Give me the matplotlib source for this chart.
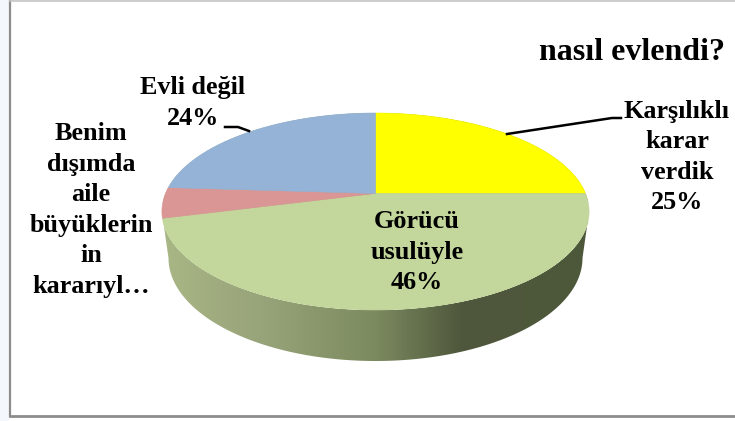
import numpy as np
import matplotlib
matplotlib.use('Agg')
import matplotlib.pyplot as plt
from matplotlib.colors import LinearSegmentedColormap
from matplotlib.patches import Polygon

plt.rcParams['font.family'] = ['Liberation Serif', 'DejaVu Serif']

title = 'nasıl evlendi?'
categories = ['Karşılıklı\nkarar\nverdik', 'Görücü\nusulüyle',
              'Benim\ndışımda\naile\nbüyüklerin\nin\nkararıyl…', 'Evli değil']
values = [25, 46, 5, 24]
colors = ['#ffff00', '#c3d69b', '#d99694', '#95b3d7']

# label centres in pixels
label_pos = [(677, 157), (417, 252), (91, 210), (193, 103)]


def top_face(ang):
    # tilted circle, apex is not the ellipse centre because of the perspective
    u = np.cos(ang)
    v = np.sin(ang)
    w = 1 + 0.1827 * v
    return 375.5 + 210 * u / w, (193.5 - 59.85 * v) / w


def bottom_edge(ang):
    return 375.5 + 207 * np.cos(ang), 258 - 103 * np.sin(ang)


fig = plt.figure(figsize=(7.35, 4.21), dpi=100, facecolor='white')
ax = fig.add_axes([0, 0, 1, 1])
ax.set_xlim(0, 735)
ax.set_ylim(421, 0)
ax.axis('off')

# frame of the pasted chart
ax.fill_between([0, 9], 0, 421, color='#f4f8fc', lw=0)
ax.plot([10, 10], [0, 416], color='#8c8c8c', lw=1.6)
ax.plot([10, 735], [416, 416], color='#8c8c8c', lw=2)
ax.plot([10, 735], [0.5, 0.5], color='#c4c4c4', lw=1.2)

# side wall with the dark shine on the right
t = np.linspace(0, 2 * np.pi, 720)
x_top, y_top = top_face(t)
left = np.argmin(x_top)
right = np.argmax(x_top)
a_top = np.linspace(t[left], t[right] + 2 * np.pi, 200)
a_bot = np.linspace(2 * np.pi, np.pi, 200)
wx, wy = bottom_edge(a_bot)
tx, ty = top_face(a_top)
wall = Polygon(np.column_stack([np.r_[tx, wx], np.r_[ty, wy]]), closed=True,
               facecolor='none', edgecolor='none')
ax.add_patch(wall)
shade = LinearSegmentedColormap.from_list('side', [
    (0.00, '#a9b685'), (0.25, '#96a278'), (0.50, '#7c8a60'),
    (0.70, '#4f583c'), (1.00, '#4d573a')])
im = ax.imshow(np.linspace(0, 1, 256)[None, :], cmap=shade, aspect='auto',
               extent=(163, 588, 421, 0), zorder=1)
im.set_clip_path(wall)
ax.set_xlim(0, 735)
ax.set_ylim(421, 0)

# top face, slices clockwise from twelve o'clock
start = 90.0
for val, col in zip(values, colors):
    end = start - val * 3.6
    ang = np.radians(np.linspace(start, end, 120))
    sx, sy = top_face(ang)
    pts = np.column_stack([np.r_[375.5, sx], np.r_[193.5, sy]])
    ax.add_patch(Polygon(pts, closed=True, facecolor=col, edgecolor=col,
                         lw=0.4, zorder=2))
    start = end

# leader lines
ax.plot([507, 612, 621], [134, 118, 118], color='black', lw=1.8, zorder=3)
ax.plot([225, 238, 249], [127, 127, 131], color='black', lw=1.8, zorder=3)

for name, val, (lx, ly) in zip(categories, values, label_pos):
    if name.startswith('Benim'):
        # this one is cut off in the original, no percentage shown
        txt = name
    else:
        txt = f'{name}\n{val}%'
    ax.text(lx, ly, txt, ha='center', va='center', fontsize=18.8,
            fontweight='bold', color='black', linespacing=1.42, zorder=4)

ax.text(632, 53, title, ha='center', va='center', fontsize=23,
        fontweight='bold', color='black', zorder=4)

fig.savefig('out.png', dpi=100, facecolor='white')
